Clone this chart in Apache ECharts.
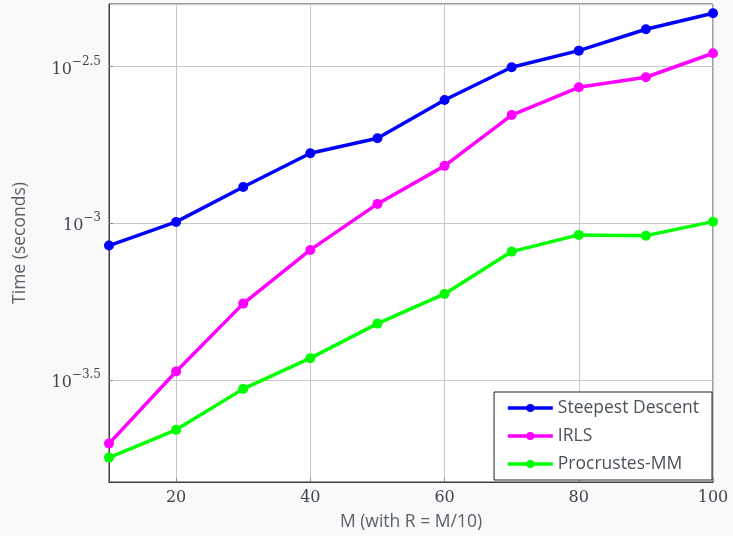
<!DOCTYPE html>
<html>
<head>
<meta charset="utf-8">
<script src="https://cdn.jsdelivr.net/npm/echarts@6/dist/echarts.min.js"></script>
<style>
  html, body { margin: 0; padding: 0; background: #f9f9f9; }
  #main { width: 733px; height: 536px; }
</style>
</head>
<body>
<div id="main"></div>
<script>
// M values
const mValues = [10, 20, 30, 40, 50, 60, 70, 80, 90, 100];
// time in seconds
const steepest = [8.49e-4, 1.010e-3, 1.306e-3, 1.673e-3, 1.868e-3, 2.475e-3, 3.148e-3, 3.557e-3, 4.162e-3, 4.681e-3];
const irls = [1.980e-4, 3.362e-4, 5.54e-4, 8.22e-4, 1.153e-3, 1.525e-3, 2.216e-3, 2.717e-3, 2.925e-3, 3.490e-3];
const procrustes = [1.786e-4, 2.190e-4, 2.960e-4, 3.710e-4, 4.782e-4, 5.95e-4, 8.12e-4, 9.18e-4, 9.13e-4, 1.012e-3];

// y axis is drawn in log10 units so ticks can sit at half decades
const yMinExp = -3.826;
const yMaxExp = -2.3;

const toLog = arr => arr.map((v, i) => [mValues[i], Math.log10(v)]);

const myChart = echarts.init(document.getElementById('main'));

const makeSeries = (name, color, data) => ({
  name: name,
  type: 'line',
  data: toLog(data),
  symbol: 'circle',
  symbolSize: 10,
  lineStyle: { width: 3.5, color: color },
  itemStyle: { color: color },
  z: 3
});

const option = {
  animation: false,
  backgroundColor: '#f9f9f9',
  grid: {
    left: 109, right: 20, top: 4, bottom: 54,
    show: true,
    backgroundColor: '#ffffff',
    borderColor: '#3a3f44',
    borderWidth: 1
  },
  legend: {
    orient: 'vertical',
    right: 21,
    bottom: 56,
    backgroundColor: '#ffffff',
    borderColor: '#222',
    borderWidth: 1,
    borderRadius: 0,
    padding: [7, 13, 7, 12],
    itemWidth: 45,
    itemHeight: 10,
    itemGap: 10,
    lineStyle: { width: 3.5 },
    textStyle: { fontFamily: 'Open Sans', fontSize: 17.5, color: '#4a5259' },
    data: ['Steepest Descent', 'IRLS', 'Procrustes-MM']
  },
  xAxis: {
    type: 'value',
    min: 10,
    max: 100,
    name: 'M (with R = M/10)',
    nameLocation: 'middle',
    nameGap: 31,
    nameTextStyle: { fontFamily: 'Open Sans', fontSize: 17.5, color: '#59626a' },
    axisLine: { show: true, lineStyle: { color: '#3a3f44' } },
    axisTick: { show: true, inside: true, length: 4, lineStyle: { color: '#888' } },
    axisLabel: {
      showMinLabel: false,
      margin: 8,
      fontFamily: 'DejaVu Serif',
      fontSize: 16,
      color: '#3d4650'
    },
    splitLine: { show: true, lineStyle: { color: '#c8c8c8', width: 1 } }
  },
  yAxis: {
    type: 'value',
    min: yMinExp,
    max: yMaxExp,
    splitNumber: 3,
    name: 'Time (seconds)',
    nameLocation: 'middle',
    nameGap: 80,
    nameTextStyle: { fontFamily: 'Open Sans', fontSize: 17.5, color: '#59626a' },
    axisLine: { show: true, lineStyle: { color: '#3a3f44' } },
    axisTick: { show: true, inside: true, length: 4, lineStyle: { color: '#888' } },
    axisLabel: {
      showMinLabel: false,
      showMaxLabel: false,
      margin: 8,
      color: '#3d4650',
      formatter: v => '{b|10}{s|' + String(v).replace('-', '\u2212') + '}',
      rich: {
        b: { fontFamily: 'DejaVu Serif', fontSize: 16, color: '#3d4650', verticalAlign: 'bottom', lineHeight: 22, padding: [6, 0, 0, 0] },
        s: { fontFamily: 'DejaVu Serif', fontSize: 12, color: '#3d4650', verticalAlign: 'top', lineHeight: 22 }
      }
    },
    splitLine: { show: true, lineStyle: { color: '#c8c8c8', width: 1 } }
  },
  series: [
    makeSeries('Steepest Descent', '#0000ff', steepest),
    makeSeries('IRLS', '#ff00ff', irls),
    makeSeries('Procrustes-MM', '#00ff00', procrustes)
  ]
};

myChart.setOption(option);
</script>
</body>
</html>
